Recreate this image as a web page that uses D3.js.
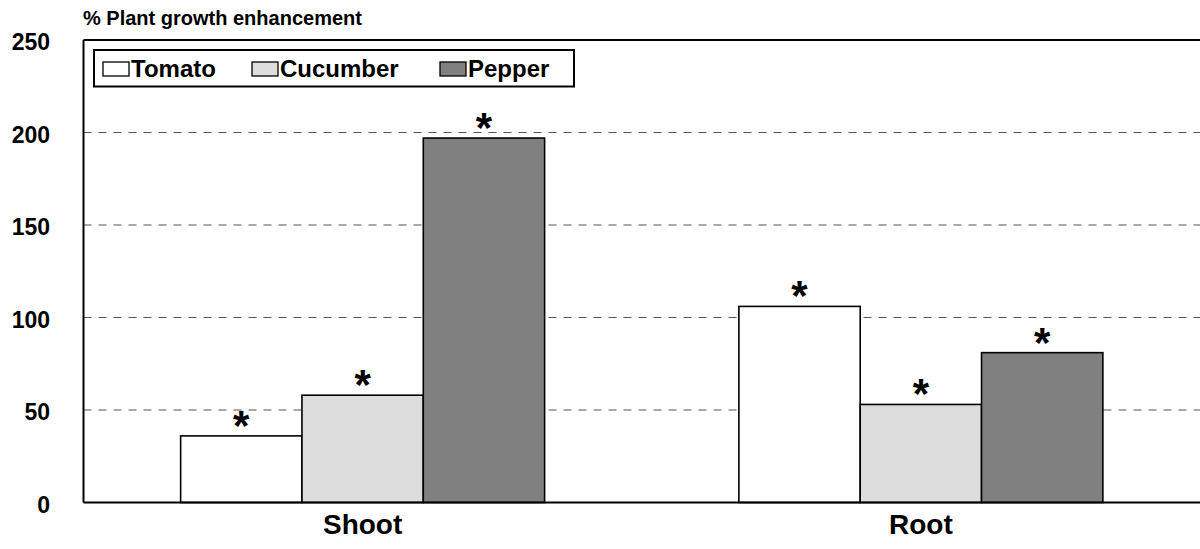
<!DOCTYPE html>
<html><head><meta charset="utf-8">
<script src="https://cdn.jsdelivr.net/npm/d3@7"></script>
<style>body{margin:0;background:#fff}svg{display:block}text{font-family:"Liberation Sans",Arial,sans-serif;font-weight:bold;fill:#000}</style>
</head><body><svg id="c" width="1200" height="549"></svg>
<script>
const categories = ["Shoot", "Root"];
const seriesNames = ["Tomato", "Cucumber", "Pepper"];
const tomato = [36, 106];
const cucumber = [58, 53];
const pepper = [197, 81];
const significance = [["*", "*", "*"], ["*", "*", "*"]];
const yTicks = [0, 50, 100, 150, 200, 250];
const yTitle = "% Plant growth enhancement";
const seriesValues = [tomato, cucumber, pepper];
const fills = ["#ffffff", "#dddddd", "#808080"];

const svg = d3.select("#c");
const L = 83.5, R = 1200, T = 40, B = 502.5;
const y = d3.scaleLinear().domain([0, 250]).range([B, T]);
const x0 = d3.scaleBand().domain(categories).range([L, R]).paddingInner(0.348).paddingOuter(0.174);
const x1 = d3.scaleBand().domain(seriesNames).range([0, x0.bandwidth()]);

// gridlines
svg.append("g").selectAll("line").data(yTicks.filter(t => t > 0 && t < 250)).join("line")
  .attr("x1", L).attr("x2", R).attr("y1", d => y(d)).attr("y2", d => y(d))
  .attr("stroke", "#555").attr("stroke-width", 1.2).attr("stroke-dasharray", "8,7");

// bars
const data = [];
categories.forEach((c, ci) => seriesNames.forEach((s, si) => data.push({c, s, si, v: seriesValues[si][ci], sig: significance[ci][si]})));
const g = svg.append("g");
g.selectAll("rect").data(data).join("rect")
  .attr("x", d => x0(d.c) + x1(d.s)).attr("width", x1.bandwidth())
  .attr("y", d => y(d.v)).attr("height", d => y(0) - y(d.v))
  .attr("fill", d => fills[d.si]).attr("stroke", "#000").attr("stroke-width", 1.6);
g.selectAll("text").data(data).join("text")
  .attr("x", d => x0(d.c) + x1(d.s) + x1.bandwidth() / 2).attr("y", d => y(d.v) + 4)
  .attr("text-anchor", "middle").attr("font-size", 42).text(d => d.sig);

// frame: left axis, bottom axis, top border
svg.append("line").attr("x1", L).attr("x2", L).attr("y1", T).attr("y2", B).attr("stroke", "#000").attr("stroke-width", 2);
svg.append("line").attr("x1", L).attr("x2", R).attr("y1", B).attr("y2", B).attr("stroke", "#000").attr("stroke-width", 2);
svg.append("line").attr("x1", L).attr("x2", R).attr("y1", T).attr("y2", T).attr("stroke", "#000").attr("stroke-width", 2);

// y axis labels
const yAxis = d3.axisLeft(y).tickValues(yTicks).tickSize(0).tickPadding(0);
const ya = svg.append("g").attr("transform", `translate(50,0)`).call(yAxis);
ya.select(".domain").remove();
ya.selectAll("text").attr("font-size", 23).attr("font-family", "Liberation Sans, Arial, sans-serif")
  .attr("font-weight", "bold").attr("fill", "#000").attr("dy", "0.42em");

// x axis labels
const xAxis = d3.axisBottom(x0).tickSize(0).tickPadding(0);
const xa = svg.append("g").attr("transform", `translate(0,${B})`).call(xAxis);
xa.select(".domain").remove();
xa.selectAll("text").attr("font-size", 28).attr("font-family", "Liberation Sans, Arial, sans-serif")
  .attr("font-weight", "bold").attr("fill", "#000").attr("dy", 0).attr("y", 31.5);

// title
svg.append("text").attr("x", 83).attr("y", 25).attr("font-size", 20).text(yTitle);

// legend
const lg = svg.append("g");
lg.append("rect").attr("x", 94).attr("y", 50).attr("width", 480).attr("height", 36.5)
  .attr("fill", "#fff").attr("stroke", "#000").attr("stroke-width", 2);
const legX = [103, 252, 440];
seriesNames.forEach((s, i) => {
  lg.append("rect").attr("x", legX[i]).attr("y", 62).attr("width", 26).attr("height", 14)
    .attr("fill", fills[i]).attr("stroke", "#000").attr("stroke-width", 1.3);
  lg.append("text").attr("x", legX[i] + 28).attr("y", 76.5).attr("font-size", 24).text(s);
});
</script></body></html>
